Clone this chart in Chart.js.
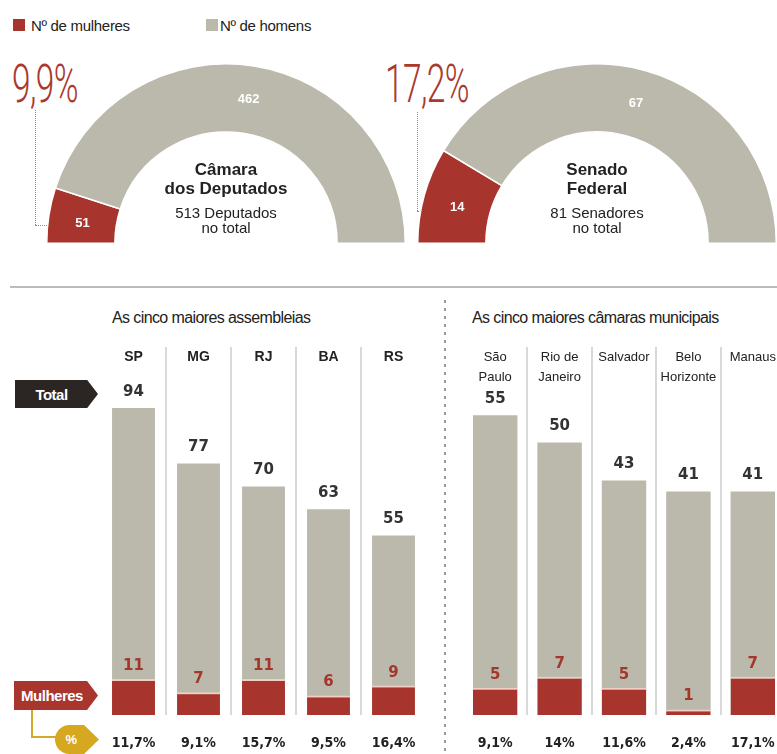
<!DOCTYPE html>
<html>
<head>
<meta charset="utf-8">
<script src="https://cdn.jsdelivr.net/npm/chart.js@4.4.0/dist/chart.umd.min.js"></script>
<style>
    html, body { margin: 0; padding: 0; background: #fff; width: 777px; height: 754px; overflow: hidden; }
    body { position: relative; font-family: "Liberation Sans", Arial, sans-serif; color: #222; }
    .abs { position: absolute; }
    .narrow { font-family: "Liberation Sans Narrow", "Liberation Sans", sans-serif; }
    canvas { display: block; }
    .sq { width: 12px; height: 12px; }
    .leg { font-size: 15px; line-height: 15px; letter-spacing: -0.3px; white-space: nowrap; }
    .big { font-family: Roboto, "Liberation Sans", sans-serif; font-weight: 300; font-size: 54px; line-height: 54px;
           color: #a8392f; transform-origin: left top; transform: scaleX(0.62); letter-spacing: -1px;
           white-space: nowrap; }
    .vdot { border-left: 1px dotted #8a8a8a; width: 0; }
    .hdot { border-top: 1px dotted #8a8a8a; height: 0; }
    .ring { width: 5px; height: 5px; border: 1px solid #8a8a8a; border-radius: 50%; background: #fff; }
    .title { font-size: 16px; letter-spacing: -0.6px; white-space: nowrap; }
    .tag { color: #fff; font-weight: bold; font-size: 15px; letter-spacing: -0.5px; display: flex; align-items: center; }
</style>
</head>
<body>

<!-- legend -->
<div class="abs sq" style="left:13px;top:19px;background:#a8352d"></div>
<div class="abs leg narrow" style="left:31px;top:18px">Nº de mulheres</div>
<div class="abs sq" style="left:206px;top:19px;background:#bbb9ac"></div>
<div class="abs leg narrow" style="left:220px;top:18px">Nº de homens</div>

<!-- big percentages + leader lines -->
<div class="abs big" style="left:12px;top:57px">9,9%</div>
<div class="abs vdot" style="left:35px;top:110px;height:115px"></div>
<div class="abs hdot" style="left:35px;top:225px;width:24px"></div>
<div class="abs ring" style="left:58px;top:221px"></div>

<div class="abs big" style="left:385px;top:57px">17,2%</div>
<div class="abs vdot" style="left:417px;top:112px;height:99px"></div>
<div class="abs hdot" style="left:417px;top:211px;width:20px"></div>
<div class="abs ring" style="left:436px;top:207px"></div>

<canvas id="camaraChart" class="abs" width="360" height="181" style="left:46px;top:63px;width:360px;height:181px"></canvas>
<canvas id="senadoChart" class="abs" width="360" height="181" style="left:417px;top:63px;width:360px;height:181px"></canvas>

<!-- dividers -->
<div class="abs" style="left:10px;top:286px;width:767px;height:2px;background:#bcbcbc"></div>
<div class="abs" style="left:444px;top:300px;width:2px;height:454px;background:repeating-linear-gradient(to bottom,#999 0 3px,transparent 3px 8px)"></div>

<div class="abs title narrow" style="left:112px;top:309px">As cinco maiores assembleias</div>
<div class="abs title narrow" style="left:472px;top:309px">As cinco maiores câmaras municipais</div>

<!-- side tags -->
<div class="abs tag narrow" style="left:15px;top:380px;width:83px;height:28px;background:#2b2523;clip-path:polygon(0 0,87% 0,100% 50%,87% 100%,0 100%)"><span style="width:73px;text-align:center">Total</span></div>
<div class="abs tag narrow" style="left:14px;top:681px;width:84px;height:29px;background:#a8352e;clip-path:polygon(0 0,87% 0,100% 50%,87% 100%,0 100%)"><span style="width:76px;text-align:center">Mulheres</span></div>
<div class="abs" style="left:31px;top:710px;width:2px;height:28px;background:#d4a92a"></div>
<div class="abs" style="left:31px;top:736px;width:26px;height:2px;background:#d4a92a"></div>
<div class="abs tag" style="left:55px;top:725px;width:44px;height:29px;background:#d6a820;border-radius:15px 0 0 15px;clip-path:polygon(0 0,66% 0,100% 50%,66% 100%,0 100%)"><span style="width:32px;text-align:center;font-size:13px">%</span></div>

<canvas id="stateChart" class="abs" width="325" height="408" style="left:101px;top:347px;width:325px;height:408px"></canvas>
<canvas id="cityChart" class="abs" width="322" height="408" style="left:463px;top:347px;width:322px;height:408px"></canvas>

<script>
// Congresso
const chamberWomen = [51, 14];
const chamberMen = [462, 67];
const chamberTitle = [['Câmara', 'dos Deputados'], ['Senado', 'Federal']];
const chamberSeats = [['513 Deputados', 'no total'], ['81 Senadores', 'no total']];

// Assembleias
const stateLabels = ['SP', 'MG', 'RJ', 'BA', 'RS'];
const stateTotal = [94, 77, 70, 63, 55];
const stateWomen = [11, 7, 11, 6, 9];
const statePct = [11.7, 9.1, 15.7, 9.5, 16.4];

// Câmaras municipais
const cityLabels = [['São', 'Paulo'], ['Rio de', 'Janeiro'], 'Salvador', ['Belo', 'Horizonte'], 'Manaus'];
const cityTotal = [55, 50, 43, 41, 41];
const cityWomen = [5, 7, 5, 1, 7];
const cityPct = [9.1, 14, 11.6, 2.4, 17.1];

const RED = '#a8352d';
const GRAY = '#bbb9ac';
const NARROW = '"Liberation Sans Narrow", "Liberation Sans", sans-serif';

// labels inside the half donuts + text in the hole
const donutLabels = {
    id: 'donutLabels',
    afterDatasetsDraw(chart, args, opts) {
        const ctx = chart.ctx;
        const meta = chart.getDatasetMeta(0);
        const values = chart.data.datasets[0].data;
        ctx.save();
        ctx.textAlign = 'center';
        ctx.textBaseline = 'middle';
        ctx.fillStyle = '#fff';
        ctx.font = 'bold 13px ' + NARROW;
        meta.data.forEach(function (arc, i) {
            const p = arc.tooltipPosition();
            ctx.fillText(values[i], p.x, p.y + (i === 0 ? 3 : 0));
        });
        const cx = meta.data[0].x, cy = meta.data[0].y;
        ctx.fillStyle = '#222';
        ctx.font = 'bold 17px "Liberation Sans"';
        ctx.fillText(opts.title[0], cx, cy - 73);
        ctx.fillText(opts.title[1], cx, cy - 54);
        ctx.font = '15px "Liberation Sans"';
        ctx.fillText(opts.seats[0], cx, cy - 29);
        ctx.fillText(opts.seats[1], cx, cy - 14);
        ctx.restore();
    }
};

function makeDonut(id, i) {
    new Chart(document.getElementById(id), {
        type: 'doughnut',
        data: {
            labels: ['Nº de mulheres', 'Nº de homens'],
            datasets: [{
                data: [chamberWomen[i], chamberMen[i]],
                backgroundColor: [RED, GRAY],
                borderColor: '#fff',
                borderWidth: 1.5,
                hoverOffset: 0
            }]
        },
        options: {
            responsive: false,
            animation: false,
            events: [],
            rotation: -90,
            circumference: 180,
            cutout: '62%',
            plugins: {
                legend: { display: false },
                tooltip: { enabled: false },
                donutLabels: { title: chamberTitle[i], seats: chamberSeats[i] }
            }
        },
        plugins: [donutLabels]
    });
}

makeDonut('camaraChart', 0);
makeDonut('senadoChart', 1);

function fmtPct(v) {
    return String(v).replace('.', ',') + '%';
}

// column headers, totals, women counts and percentages
const barLabels = {
    id: 'barLabels',
    afterDatasetsDraw(chart, args, opts) {
        const { ctx, chartArea, scales: { x, y } } = chart;
        const women = chart.data.datasets[0].data;
        const total = chart.data.datasets[1].data;
        ctx.save();
        ctx.textAlign = 'center';
        ctx.textBaseline = 'middle';
        chart.data.labels.forEach(function (lab, i) {
            const px = x.getPixelForValue(i);
            const lines = Array.isArray(lab) ? lab : [lab];
            ctx.fillStyle = '#222';
            ctx.font = opts.headFont;
            lines.forEach(function (l, j) {
                ctx.fillText(l, px, chartArea.top + 10 + j * 20);
            });
            ctx.fillStyle = '#333';
            ctx.font = 'bold 15px "DejaVu Sans"';
            ctx.fillText(total[i], px, y.getPixelForValue(total[i]) - 16);
            ctx.fillStyle = '#a3372c';
            ctx.font = 'bold 15px "DejaVu Sans"';
            ctx.fillText(women[i], px, y.getPixelForValue(women[i]) - 13);
            ctx.fillStyle = '#222';
            ctx.font = 'bold 14px "DejaVu Sans Condensed", "DejaVu Sans"';
            ctx.fillText(fmtPct(opts.pct[i]), px, chartArea.bottom + 28);
        });
        ctx.restore();
    }
};

function makeBars(id, labels, women, total, pct, yMax, barPct, headFont) {
    new Chart(document.getElementById(id), {
        type: 'bar',
        data: {
            labels: labels,
            datasets: [
                {
                    label: 'Mulheres',
                    data: women,
                    backgroundColor: RED,
                    borderColor: '#f2cfc4',
                    borderWidth: { top: 2, left: 0, right: 0, bottom: 0 },
                    borderSkipped: false,
                    grouped: false,
                    order: 0
                },
                {
                    label: 'Total',
                    data: total,
                    backgroundColor: GRAY,
                    grouped: false,
                    order: 1
                }
            ]
        },
        options: {
            responsive: false,
            animation: false,
            events: [],
            layout: { padding: { bottom: 40 } },
            datasets: { bar: { barPercentage: barPct, categoryPercentage: 1 } },
            scales: {
                x: {
                    ticks: { display: false },
                    border: { display: false },
                    grid: {
                        drawTicks: false,
                        lineWidth: 2,
                        color: function (c) {
                            return (c.type !== 'tick' || c.index === 0) ? 'rgba(0,0,0,0)' : '#d9d9d9';
                        }
                    }
                },
                y: { display: false, min: 0, max: yMax }
            },
            plugins: {
                legend: { display: false },
                tooltip: { enabled: false },
                barLabels: { pct: pct, headFont: headFont }
            }
        },
        plugins: [barLabels]
    });
}

makeBars('stateChart', stateLabels, stateWomen, stateTotal, statePct, 112.7, 0.66, 'bold 14px ' + NARROW);
makeBars('cityChart', cityLabels, cityWomen, cityTotal, cityPct, 67.5, 0.69, '13px ' + NARROW);
</script>
</body>
</html>
